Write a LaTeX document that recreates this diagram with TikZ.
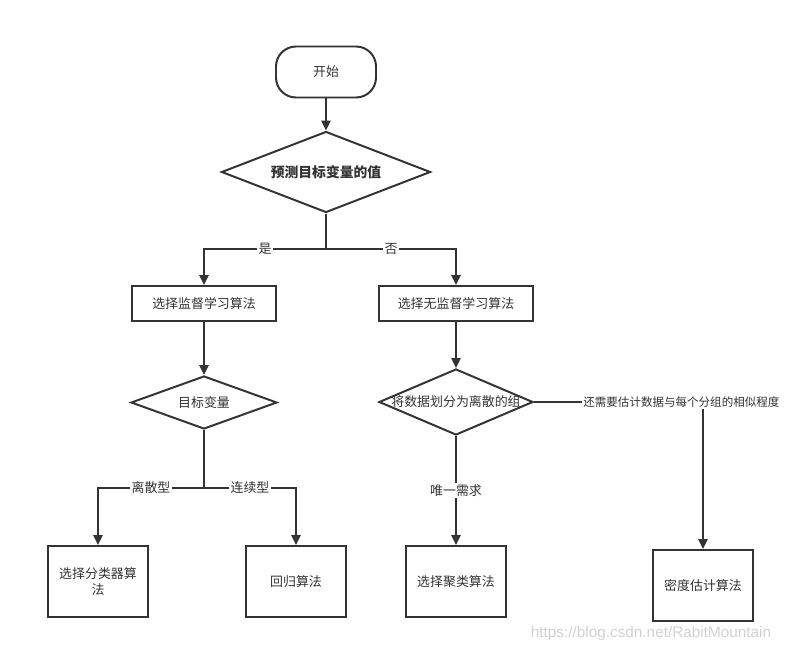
\documentclass[tikz,border=0pt]{standalone}
\usepackage{fontspec}
\setmainfont{Noto Sans CJK SC}
\setsansfont{Liberation Sans}
\usetikzlibrary{shapes.geometric,arrows.meta}

\begin{document}
\begin{tikzpicture}[x=0.025cm, y=-0.025cm, >={Triangle[length=7pt,width=6.5pt]}, line width=1.4pt, draw=black!80, font=\fontsize{9.2}{12}\selectfont]

    \tikzstyle{startbox} = [rectangle, rounded corners=0.5cm, minimum width=2.5cm, minimum height=1.275cm, draw=black!80, text=black!80]
    \tikzstyle{algobox} = [rectangle, minimum height=0.875cm, draw=black!80, text=black!80]
    \tikzstyle{endbox} = [rectangle, minimum width=2.5cm, minimum height=1.775cm, align=center, draw=black!80, text=black!80]
    \tikzstyle{choice} = [diamond, inner sep=0pt, draw=black!80, label={[text=black!80]center:#1}]
    \tikzstyle{lbl} = [fill=white, inner sep=1pt, text=black!80]

    \useasboundingbox (0,0) rectangle (785,653);

    \node (start)  [startbox]                                    at (326,72)    {开始};
    \node (goal)   [choice={\fontsize{9.8}{12}\selectfont\bfseries 预测目标变量的值}, minimum width=5.225cm, minimum height=2.025cm] at (326,172) {};

    \node (sup)    [algobox, minimum width=3.6cm]                at (204,303.5) {选择监督学习算法};
    \node (unsup)  [algobox, minimum width=3.85cm]               at (456,303.5) {选择无监督学习算法};

    \node (target) [choice={目标变量}, minimum width=3.65cm, minimum height=1.325cm]          at (204,402.5) {};
    \node (split)  [choice={将数据划分为离散的组}, minimum width=3.85cm, minimum height=1.65cm] at (456,402)   {};

    \node (cls)    [endbox]                                      at (98,581.5)  {选择分类器算\\法};
    \node (reg)    [endbox]                                      at (296,581.5) {回归算法};
    \node (clu)    [endbox]                                      at (456,581.5) {选择聚类算法};
    \node (dens)   [endbox]                                      at (703,585.5) {密度估计算法};

    \coordinate (fork1) at (326,249);
    \coordinate (fork2) at (204,488);

    \draw[->] (start) -- (goal);
    \draw     (goal.south) -- (fork1);
    \draw[->] (fork1) -| node[lbl, pos=0.25] {是} (sup);
    \draw[->] (fork1) -| node[lbl, pos=0.25] {否} (unsup);

    \draw[->] (sup) -- (target);
    \draw     (target.south) -- (fork2);
    \draw[->] (fork2) -| node[lbl, pos=0.25] {离散型} (cls);
    \draw[->] (fork2) -| node[lbl, pos=0.25] {连续型} (reg);

    \draw[->] (unsup) -- (split);
    \draw[->] (split) -- node[lbl] {唯一需求} (clu);
    \draw[->] (split.east) -| node[lbl, pos=0.139, anchor=west, font=\fontsize{8.2}{10}\selectfont] {还需要估计数据与每个分组的相似程度} (dens);

    \node (mark) at (651,634) {\sffamily\fontsize{10.9}{12}\selectfont\color{black!18}https://blog.csdn.net/RabitMountain};
\end{tikzpicture}
\end{document}
